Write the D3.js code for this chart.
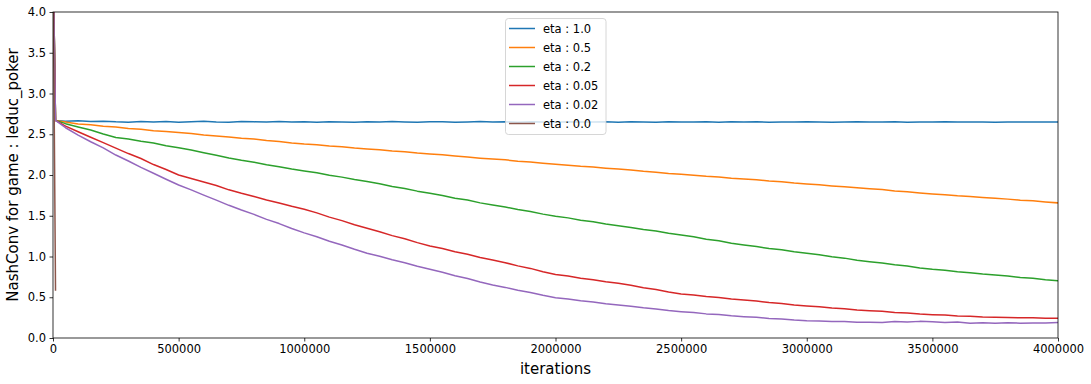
<!DOCTYPE html>
<html>
<head>
<meta charset="utf-8">
<script src="https://cdn.jsdelivr.net/npm/d3@7"></script>
<style>
  html, body { margin: 0; padding: 0; background: #fff; }
  svg { display: block; font-family: "DejaVu Sans", sans-serif; }
</style>
</head>
<body>
<svg id="chart" width="1091" height="384"></svg>
<script>
// ---- data (iterations in thousands) ----
const iterK = [0, 10, 50, 100, 150, 200, 250, 300, 350, 400, 450, 500, 550, 600, 650, 700, 750, 800, 850, 900, 950,
  1000, 1050, 1100, 1150, 1200, 1250, 1300, 1350, 1400, 1450, 1500, 1550, 1600, 1650, 1700, 1750, 1800, 1850, 1900, 1950,
  2000, 2050, 2100, 2150, 2200, 2250, 2300, 2350, 2400, 2450, 2500, 2550, 2600, 2650, 2700, 2750, 2800, 2850, 2900, 2950,
  3000, 3050, 3100, 3150, 3200, 3250, 3300, 3350, 3400, 3450, 3500, 3550, 3600, 3650, 3700, 3750, 3800, 3850, 3900, 3950, 4000];

const eta10 = [4.747, 2.67, 2.66, 2.665, 2.655, 2.66, 2.652, 2.648, 2.655, 2.65, 2.657, 2.648, 2.653, 2.66, 2.651, 2.647, 2.655, 2.652, 2.649, 2.656, 2.65,
  2.652, 2.647, 2.654, 2.65, 2.646, 2.653, 2.649, 2.655, 2.65, 2.647, 2.652, 2.654, 2.648, 2.651, 2.656, 2.649, 2.653, 2.648, 2.652, 2.65,
  2.647, 2.653, 2.649, 2.651, 2.654, 2.648, 2.652, 2.65, 2.646, 2.653, 2.651, 2.649, 2.654, 2.648, 2.652, 2.65, 2.653, 2.648, 2.651, 2.649,
  2.652, 2.65, 2.648, 2.651, 2.653, 2.649, 2.65, 2.652, 2.648, 2.651, 2.65, 2.652, 2.649, 2.651, 2.65, 2.648, 2.651, 2.65, 2.649, 2.651, 2.65];

const eta05 = [4.747, 2.67, 2.65, 2.626, 2.617, 2.598, 2.59, 2.571, 2.562, 2.544, 2.533, 2.52, 2.51, 2.49, 2.479, 2.467, 2.45, 2.441, 2.423, 2.412, 2.394,
  2.38, 2.371, 2.355, 2.346, 2.331, 2.32, 2.31, 2.293, 2.284, 2.269, 2.258, 2.247, 2.233, 2.221, 2.207, 2.196, 2.186, 2.169, 2.159, 2.145,
  2.133, 2.121, 2.107, 2.098, 2.084, 2.073, 2.061, 2.046, 2.035, 2.019, 2.008, 1.998, 1.984, 1.975, 1.961, 1.951, 1.941, 1.926, 1.916, 1.901,
  1.89, 1.879, 1.866, 1.856, 1.843, 1.832, 1.821, 1.805, 1.794, 1.779, 1.767, 1.758, 1.745, 1.736, 1.724, 1.714, 1.704, 1.691, 1.683, 1.67, 1.658];

const eta02 = [4.747, 2.67, 2.63, 2.59, 2.552, 2.503, 2.46, 2.442, 2.413, 2.392, 2.358, 2.335, 2.307, 2.273, 2.242, 2.208, 2.18, 2.157, 2.126, 2.102, 2.073,
  2.05, 2.027, 1.996, 1.974, 1.944, 1.92, 1.892, 1.86, 1.834, 1.802, 1.775, 1.749, 1.716, 1.692, 1.658, 1.632, 1.607, 1.576, 1.552, 1.52,
  1.495, 1.474, 1.446, 1.427, 1.398, 1.378, 1.357, 1.33, 1.312, 1.285, 1.264, 1.242, 1.213, 1.192, 1.163, 1.141, 1.122, 1.098, 1.082, 1.058,
  1.04, 1.022, 0.996, 0.98, 0.955, 0.937, 0.92, 0.898, 0.882, 0.86, 0.843, 0.832, 0.813, 0.802, 0.785, 0.773, 0.762, 0.743, 0.733, 0.715, 0.703];

const eta005 = [4.747, 2.67, 2.60, 2.53, 2.463, 2.397, 2.33, 2.263, 2.202, 2.128, 2.067, 2.0, 1.957, 1.913, 1.872, 1.818, 1.775, 1.737, 1.693, 1.657, 1.616,
  1.58, 1.535, 1.483, 1.44, 1.39, 1.346, 1.304, 1.256, 1.217, 1.17, 1.129, 1.097, 1.058, 1.028, 0.988, 0.957, 0.924, 0.885, 0.854, 0.814,
  0.78, 0.76, 0.734, 0.716, 0.69, 0.671, 0.647, 0.616, 0.594, 0.564, 0.54, 0.527, 0.508, 0.497, 0.478, 0.466, 0.454, 0.435, 0.424, 0.406,
  0.393, 0.383, 0.368, 0.36, 0.344, 0.335, 0.327, 0.313, 0.307, 0.293, 0.286, 0.281, 0.271, 0.268, 0.258, 0.254, 0.252, 0.248, 0.247, 0.243, 0.242];

const eta002 = [4.747, 2.67, 2.58, 2.49, 2.408, 2.332, 2.245, 2.172, 2.093, 2.022, 1.948, 1.877, 1.817, 1.753, 1.692, 1.628, 1.57, 1.517, 1.456, 1.404, 1.344,
  1.29, 1.242, 1.188, 1.142, 1.088, 1.04, 1.002, 0.96, 0.924, 0.88, 0.843, 0.807, 0.764, 0.729, 0.686, 0.65, 0.621, 0.586, 0.559, 0.524,
  0.495, 0.479, 0.457, 0.443, 0.421, 0.405, 0.39, 0.37, 0.357, 0.337, 0.323, 0.312, 0.296, 0.288, 0.272, 0.262, 0.254, 0.24, 0.234, 0.22,
  0.213, 0.21, 0.202, 0.202, 0.194, 0.192, 0.19, 0.201, 0.195, 0.204, 0.2, 0.19, 0.196, 0.181, 0.187, 0.18, 0.186, 0.182, 0.183, 0.185, 0.19];

const eta00K = [0, 10];
const eta00 = [4.747, 0.59];

const seriesNames = ["eta : 1.0", "eta : 0.5", "eta : 0.2", "eta : 0.05", "eta : 0.02", "eta : 0.0"];
const seriesColors = ["#1f77b4", "#ff7f0e", "#2ca02c", "#d62728", "#9467bd", "#8c564b"];

const xTicks = [0, 500000, 1000000, 1500000, 2000000, 2500000, 3000000, 3500000, 4000000];
const yTicks = [0.0, 0.5, 1.0, 1.5, 2.0, 2.5, 3.0, 3.5, 4.0];

// ---- layout ----
const svg = d3.select("#chart");
const L = 53, R = 1058, T = 12, B = 338;
const x = d3.scaleLinear().domain([0, 4000000]).range([L, R]);
const y = d3.scaleLinear().domain([0, 4]).range([B, T]);

svg.append("defs").append("clipPath").attr("id", "clip")
  .append("rect").attr("x", L).attr("y", T).attr("width", R - L).attr("height", B - T);

const series = [
  { k: iterK, v: eta10 }, { k: iterK, v: eta05 }, { k: iterK, v: eta02 },
  { k: iterK, v: eta005 }, { k: iterK, v: eta002 }, { k: eta00K, v: eta00 }
];

const line = d3.line().x(d => x(d[0] * 1000)).y(d => y(d[1]));
const g = svg.append("g").attr("clip-path", "url(#clip)");
series.forEach((s, i) => {
  const pts = s.k.map((k, j) => [k, s.v[j]]);
  g.append("path").datum(pts)
    .attr("d", line)
    .attr("fill", "none")
    .attr("stroke", seriesColors[i])
    .attr("stroke-width", 1.5)
    .attr("stroke-linejoin", "round")
    .attr("stroke-linecap", "square");
});

// axes
const xAxis = d3.axisBottom(x).tickValues(xTicks).tickFormat(d3.format("d")).tickSize(3.5).tickPadding(3.5);
const yAxis = d3.axisLeft(y).tickValues(yTicks).tickFormat(d3.format(".1f")).tickSize(3.5).tickPadding(3.5);
const gx = svg.append("g").attr("transform", `translate(0,${B})`).call(xAxis);
const gy = svg.append("g").attr("transform", `translate(${L},0)`).call(yAxis);
[gx, gy].forEach(a => {
  a.select(".domain").remove();
  a.selectAll("text").attr("font-size", "11.5px").attr("fill", "#000").attr("font-family", "DejaVu Sans, sans-serif");
  a.selectAll("line").attr("stroke", "#000").attr("stroke-width", 0.8);
});

// frame
svg.append("rect").attr("x", L).attr("y", T).attr("width", R - L).attr("height", B - T)
  .attr("fill", "none").attr("stroke", "#000").attr("stroke-width", 0.8);

// labels
svg.append("text").attr("x", (L + R) / 2).attr("y", 374).attr("text-anchor", "middle")
  .attr("font-size", "15px").text("iterations");
svg.append("text").attr("transform", `translate(18,${(T + B) / 2}) rotate(-90)`).attr("text-anchor", "middle")
  .attr("font-size", "15px").text("NashConv for game : leduc_poker");

// legend
const lg = svg.append("g");
lg.append("rect").attr("x", 505.5).attr("y", 18.5).attr("width", 100.5).attr("height", 116)
  .attr("rx", 3).attr("fill", "rgba(255,255,255,0.8)").attr("stroke", "#cccccc").attr("stroke-width", 0.8);
seriesNames.forEach((n, i) => {
  const cy = 28.5 + i * 19;
  lg.append("line").attr("x1", 509).attr("x2", 535).attr("y1", cy).attr("y2", cy)
    .attr("stroke", seriesColors[i]).attr("stroke-width", 1.5);
  lg.append("text").attr("x", 543).attr("y", cy).attr("dy", "0.36em")
    .attr("font-size", "11.5px").text(n);
});
</script>
</body>
</html>
